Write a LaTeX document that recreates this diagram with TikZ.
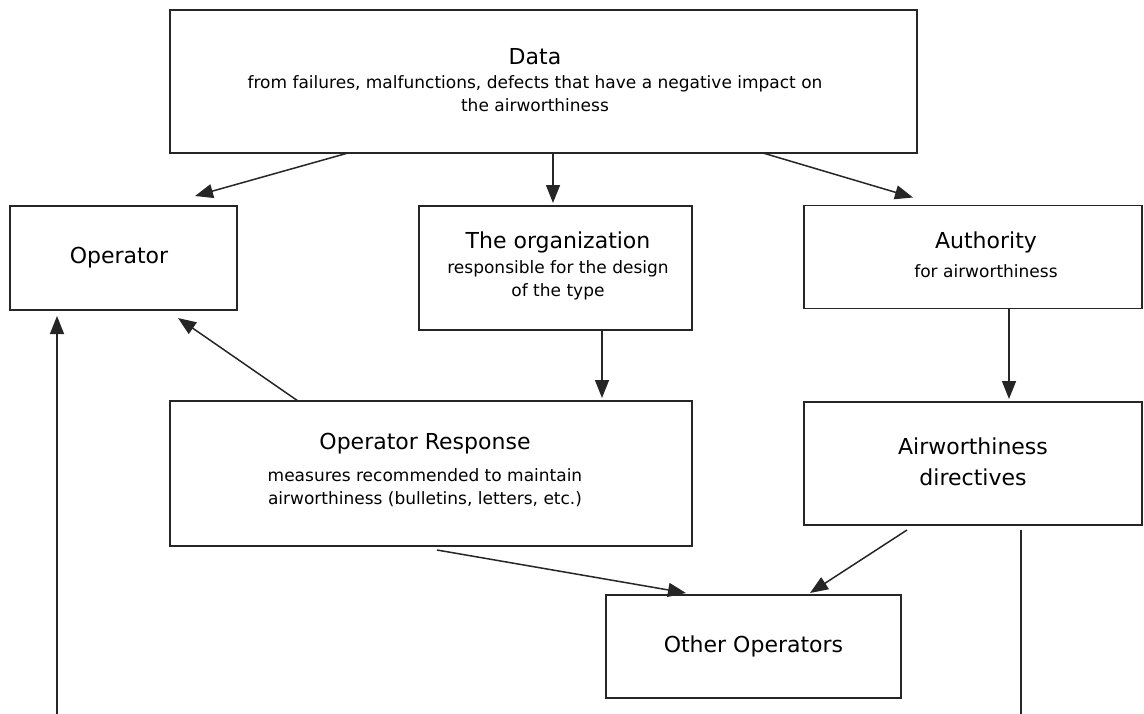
\documentclass[tikz,border=0pt]{standalone}
\usepackage{fontspec}
\setmainfont{DejaVu Sans}
\usetikzlibrary{arrows.meta}
\definecolor{ink}{HTML}{262626}
\begin{document}
\begin{tikzpicture}[x=1pt,y=-1pt,
  box/.style={draw=ink, line width=1.9pt, rectangle, inner sep=0pt, outer sep=0pt},
  label text/.style={align=center, inner sep=0pt, text=black, font=\fontsize{17}{23}\selectfont},
  title/.style={font=\fontsize{22}{31}\selectfont},
  conn/.style={draw=ink, line width=1.5pt},
  arr/.style={conn, -{Triangle[length=18pt,width=14pt]}}
]
\useasboundingbox (0,0) rectangle (1144,713);
\clip (0,0) rectangle (1144,713);

% boxes
\node[box, minimum width=747pt, minimum height=143pt] (data) at (543.5,81.5) {};
\node[box, minimum width=227pt, minimum height=104pt] (op)   at (123.5,258) {};
\node[box, minimum width=273pt, minimum height=124pt] (org)  at (555.5,268) {};
\node[box, minimum width=338pt, minimum height=103pt] (auth) at (973,257) {};
\node[box, minimum width=522pt, minimum height=145pt] (resp) at (431,473.5) {};
\node[box, minimum width=338pt, minimum height=123pt] (dir)  at (973,463.5) {};
\node[box, minimum width=295pt, minimum height=103pt] (other) at (753.5,646.5) {};

% texts
\node[label text] (data-t) at ([xshift=-8.5pt,yshift=1.5pt]data.center)
  {{\fontsize{22}{26}\selectfont Data}\\[1pt]
   from failures, malfunctions, defects that have a negative impact on\\
   the airworthiness};
\node[label text, title] (op-t) at ([xshift=-4.5pt]op.center) {Operator};
\node[label text] (org-t) at ([xshift=2.5pt,yshift=2pt]org.center)
  {{\fontsize{22}{26}\selectfont The organization}\\[2pt]
   responsible for the design\\ of the type};
\node[label text] (auth-t) at ([xshift=13pt,yshift=2pt]auth.center)
  {{\fontsize{22}{26}\selectfont Authority}\\[6pt] for airworthiness};
\node[label text] (resp-t) at ([xshift=-6pt,yshift=4pt]resp.center)
  {{\fontsize{22}{26}\selectfont Operator Response}\\[9pt]
   measures recommended to maintain\\
   airworthiness (bulletins, letters, etc.)};
\node[label text, title] (dir-t) at ([yshift=2pt]dir.center) {Airworthiness\\directives};
\node[label text, title] (other-t) at (other.center) {Other Operators};

% free ends running off the lower edge
\coordinate (leftfoot)  at (57,716);
\coordinate (rightfoot) at (1021,716);

% connectors
\draw[arr] ([xshift=-195.5pt]data.south) -- ([xshift=-42pt,yshift=10pt]op.north east);
\draw[arr] ([xshift=-2.5pt]org.north |- data.south) -- ([xshift=-2.5pt,yshift=3pt]org.north);
\draw[arr] ([xshift=219.5pt]data.south) -- ([xshift=109pt,yshift=8pt]auth.north west);
\draw[arr] ([xshift=46.5pt]org.south) -- ([xshift=46.5pt,yshift=3pt]org.south |- resp.north);
\draw[arr] ([xshift=205pt]auth.south west) -- ([xshift=205pt,yshift=3pt]auth.south west |- dir.north);
\draw[arr] ([xshift=128pt]resp.north west) -- ([xshift=-59pt,yshift=-8pt]op.south east);
\draw[arr] (leftfoot) -- ([yshift=-6pt]leftfoot |- op.south);
\draw[conn] ([yshift=-5pt]rightfoot |- dir.south) -- (rightfoot);
\draw[arr] ([xshift=267pt,yshift=-4pt]resp.south west) -- ([xshift=80pt,yshift=2pt]other.north west);
\draw[arr] ([xshift=103pt,yshift=-5pt]dir.south west) -- ([xshift=-91pt,yshift=2pt]other.north east);
\end{tikzpicture}
\end{document}
